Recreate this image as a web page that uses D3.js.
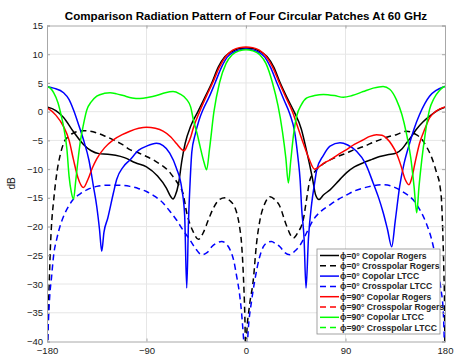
<!DOCTYPE html>
<html lang="en">
<head>
<meta charset="UTF-8">
<title>Comparison Radiation Pattern</title>
<script src="https://d3js.org/d3.v7.min.js"></script>
<style>
    body { margin: 0; background: #fff; }
    svg { font-family: "Liberation Sans", Arial, Helvetica, sans-serif; }
    .grid line { stroke: #e6e6e6; stroke-width: 1; }
    .axis path, .axis line { stroke: #a8a8a8; }
    .axis text { fill: #1a1a1a; font-size: 9.5px; }
    .legend-text { font-size: 8.6px; font-weight: bold; fill: #262626; }
</style>
</head>
<body>
<script>
    // [angle in degrees, gain in dB]
    const copol0Rogers = [
        [-180,0.8],[-172,0.2],[-165,-1.0],[-156,-3.5],[-147,-5.7],[-140,-6.8],[-133,-7.3],[-125,-7.4],
        [-118,-7.6],[-110,-8.0],[-100,-8.9],[-90,-9.6],[-80,-11.2],[-72,-13.3],[-68,-14.8],[-66,-15.2],
        [-64,-14.6],[-61,-12.5],[-58,-8.5],[-55,-5.5],[-50,-2.5],[-43.5,0],[-37,2.6],[-31,5],[-25,7.8],
        [-19,9.6],[-12,10.55],[-6,11.0],[0,11.1],[6,11.0],[12,10.55],[19,9.6],[25,7.8],[31,5],[37,2.5],
        [43.5,0],[50,-3],[55,-7],[60,-11.5],[63,-14.5],[66,-15.3],[70,-14.5],[76,-13.6],[84,-12],
        [91,-10.6],[98,-9.6],[106,-8.9],[114,-8.3],[121,-7.8],[128,-7.5],[136,-7.2],[141,-6.5],[145,-5.5],
        [150,-4.2],[154,-3.1],[160,-1.8],[166,-0.8],[173,0.2],[180,0.8]
    ];
    const cross0Rogers = [
        [-180,-45],[-179,-36],[-178,-30],[-177,-24],[-176,-20],[-174,-15.5],[-171,-10.5],[-168,-7.5],
        [-165,-5.5],[-160,-4.2],[-156,-3.7],[-151,-3.4],[-147,-3.3],[-141,-3.4],[-135,-3.7],[-127,-4.3],
        [-120,-4.9],[-112,-5.7],[-105,-6.6],[-97,-7.2],[-90,-7.8],[-82,-8.6],[-75,-9.5],[-70,-10.3],
        [-66,-11.3],[-61,-12.7],[-57,-14.2],[-53.6,-17.6],[-48,-20.8],[-43,-22.2],[-39,-21.2],[-34,-18.8],
        [-29,-16.6],[-24,-15.3],[-19,-15],[-14.5,-15.5],[-11,-16.3],[-8.4,-17.6],[-6,-19.8],[-4,-23],
        [-2.5,-28],[-1,-36],[0,-45],[0.6,-39],[3,-34],[6.6,-29.3],[9.5,-23],[12.7,-18.8],[17,-16],
        [21.7,-14.8],[26,-15.3],[30.7,-16.5],[36,-19.5],[42.8,-22],[47,-21],[51.8,-18.8],[55,-15],
        [57.9,-11.8],[62,-10.5],[67,-9.5],[76,-8.4],[83,-7.8],[91,-7.2],[98,-6.6],[106,-6.1],[113,-5.5],
        [121,-4.9],[128,-4.4],[136,-4.0],[145,-3.4],[150,-3.6],[154,-4.0],[159,-4.8],[163,-6],[168,-8],
        [172.5,-10.7],[175.5,-13],[177,-16],[178,-21],[179,-28],[179.6,-34],[180,-45]
    ];
    const copol0LTCC = [
        [-180,4.4],[-174,4.1],[-165,3.3],[-160,2.1],[-156,0.3],[-151,-2.5],[-147,-4.9],[-142,-8.5],
        [-138,-13],[-135,-16.5],[-132.5,-20.5],[-130.5,-24.3],[-128.5,-21],[-125,-18.5],[-120,-14.2],
        [-117,-11.8],[-111,-9.6],[-105,-8.4],[-97,-6.7],[-90,-6.0],[-81,-5.5],[-75,-5.9],[-69,-7.2],
        [-63,-9.8],[-58,-13.5],[-55.5,-18],[-53.6,-30.7],[-52,-19],[-50.5,-12],[-49,-7],[-46,-4],
        [-42.5,-1.5],[-39,0.3],[-33,2.7],[-28,5],[-22,7.8],[-17,9.5],[-11,10.4],[-5,10.8],[0,10.9],
        [5,10.8],[11,10.4],[17,9.5],[22,7.8],[28,5],[34,2.2],[39.8,-0.5],[44,-3.5],[47,-8],[49,-12],
        [50.4,-17],[52.5,-22],[54.3,-30.7],[56.5,-22],[59.4,-16],[62,-12.5],[64,-10.1],[70,-7.6],[76,-6.0],
        [85,-5.4],[92,-5.8],[100,-6.9],[108,-9],[115,-12.4],[120,-15],[124,-17.5],[128,-20.5],[131.8,-23.5],
        [135,-19],[139,-13],[143,-9],[148,-5.5],[152,-3],[157,-0.5],[162,1.5],[166,2.7],[172,3.7],
        [178.5,4.3],[180,4.4]
    ];
    const cross0LTCC = [
        [-180,-45],[-179,-38],[-177.5,-32],[-176,-29],[-174,-25],[-171,-22],[-168,-19.8],[-165,-18.2],
        [-160,-16.3],[-156,-15.2],[-150,-14.3],[-144,-13.6],[-135,-13.0],[-126,-12.8],[-115,-12.8],
        [-105,-13],[-97,-13.4],[-90,-13.9],[-82,-14.8],[-75,-15.9],[-69,-17.3],[-63,-18.8],[-57,-20.6],
        [-50.7,-22.3],[-45,-24.0],[-40,-24.9],[-35,-24.5],[-31,-23.5],[-26,-22.8],[-22,-22.6],[-18,-23],
        [-14.5,-24],[-11,-26],[-8.4,-28.7],[-6,-31.5],[-4,-35],[-2,-40],[0,-45],[2,-38],[5,-33],[8,-29.3],
        [12,-25.5],[15.7,-23.5],[19,-22.8],[23,-22.6],[27,-23],[30.7,-23.5],[35,-24.5],[39.8,-24.9],
        [44,-24.3],[49,-23.2],[55,-21],[61,-18.8],[68,-17.3],[76,-16.2],[84,-15.2],[91,-14.5],[98,-13.8],
        [106,-13.3],[115,-12.9],[124,-12.7],[131,-12.9],[136,-13.3],[143,-14.1],[151,-15.3],[157,-17],
        [163,-19.4],[168,-22.3],[172.5,-26.4],[176,-30.5],[178.5,-35],[180,-45]
    ];
    const copol90Rogers = [
        [-180,0.7],[-172,-0.6],[-165,-2.6],[-160,-5],[-156,-8.4],[-152,-11.5],[-147,-13.2],[-143,-11.8],
        [-139,-9.8],[-135,-8.2],[-128,-6.3],[-120,-4.9],[-112,-4.0],[-105,-3.4],[-97,-2.9],[-90,-2.7],
        [-82,-2.9],[-75,-3.4],[-68,-4.4],[-62.7,-5.6],[-58,-6.6],[-56,-6.8],[-53,-5.8],[-50,-4.4],
        [-47.6,-2.8],[-42,0],[-35.6,2.8],[-30,5.1],[-24,7.8],[-18,9.7],[-12,10.7],[-6,11.15],[0,11.25],
        [6,11.15],[12,10.7],[18,9.7],[24,7.8],[30,5.1],[36,2.5],[42,0],[47,-2.8],[52,-5.6],[57,-8.2],
        [62,-10],[66,-9.6],[70,-9.0],[76,-8.4],[83,-7.5],[91,-6.6],[98,-5.7],[106,-4.9],[112,-4.3],
        [118,-4.0],[123,-4.1],[127,-4.6],[132,-5.8],[136,-7.2],[140,-9.3],[144,-11.8],[147.4,-12.7],
        [150,-11.5],[153,-8.8],[157,-5.5],[162,-2.9],[166,-1.1],[172,0.1],[180,0.8]
    ];
    const cross90Rogers = [];
    const copol90LTCC = [
        [-180,4.4],[-177,4.1],[-174,3.3],[-170,1.5],[-167,-0.8],[-165,-2.6],[-162,-6.5],[-160,-11.3],
        [-158,-14],[-156,-15.2],[-154,-12],[-152,-8.5],[-150,-5.4],[-147,-2.2],[-144,0.3],[-140,1.7],
        [-135,2.7],[-128,3.2],[-123,3.3],[-117,3.1],[-111,2.8],[-103,2.4],[-96,2.3],[-88,2.5],[-81,2.8],
        [-73,3.3],[-66,3.5],[-60,3.1],[-53.6,2.1],[-50,0.8],[-47.6,-1.4],[-44,-4],[-41.6,-6],[-38,-8.8],
        [-35.6,-10.1],[-33,-6.5],[-29,0],[-24,5],[-18,8.4],[-12.5,9.9],[-6,10.6],[0,10.8],[6,10.6],
        [12.5,9.9],[18,8.4],[24,5],[29,1],[33,-3.5],[36,-8],[38.3,-12.4],[40.5,-8.5],[43,-4],[45.8,-0.8],
        [50,1.2],[55,2.4],[62,2.8],[70,3.0],[80,2.8],[88,2.5],[96,2.8],[106,3.5],[115,4.1],[124,4.4],
        [130,3.9],[136,2.1],[141,-0.5],[145,-3.7],[149,-8],[152,-13],[154.4,-17.6],[156.5,-13],[159,-8.4],
        [162,-4],[166,0.35],[170,2.3],[175,3.7],[178.5,4.3],[180,4.4]
    ];
    const cross90LTCC = [];

    const seriesNames = [
        "\u03d5=0\u00b0 Copolar Rogers", "\u03d5=0\u00b0 Crosspolar Rogers",
        "\u03d5=0\u00b0 Copolar LTCC", "\u03d5=0\u00b0 Crosspolar LTCC",
        "\u03d5=90\u00b0 Copolar Rogers", "\u03d5=90\u00b0 Crosspolar Rogers",
        "\u03d5=90\u00b0 Copolar LTCC", "\u03d5=90\u00b0 Crosspolar LTCC"
    ];
    const seriesData = [copol0Rogers, cross0Rogers, copol0LTCC, cross0LTCC,
        copol90Rogers, cross90Rogers, copol90LTCC, cross90LTCC];
    const seriesColors = ["#000000", "#000000", "#0000ff", "#0000ff",
        "#ff0000", "#ff0000", "#00ff00", "#00ff00"];
    const seriesDashed = [false, true, false, true, false, true, false, true];

    const xTicks = [-180, -90, 0, 90, 180];
    const yTicks = [-40, -35, -30, -25, -20, -15, -10, -5, 0, 5, 10, 15];

    const width = 462, height = 358;
    const margin = { top: 25.5, right: 17, bottom: 16.5, left: 47 };

    const svg = d3.select("body").append("svg")
        .attr("width", width)
        .attr("height", height);

    const x = d3.scaleLinear().domain([-180, 180]).range([margin.left, width - margin.right]);
    const y = d3.scaleLinear().domain([-40, 15]).range([height - margin.bottom, margin.top]);

    // grid
    const grid = svg.append("g").attr("class", "grid");
    grid.selectAll(".gx").data(xTicks.slice(1, -1)).enter().append("line")
        .attr("x1", d => x(d)).attr("x2", d => x(d))
        .attr("y1", y(-40)).attr("y2", y(15));
    grid.selectAll(".gy").data(yTicks.slice(1, -1)).enter().append("line")
        .attr("x1", x(-180)).attr("x2", x(180))
        .attr("y1", d => y(d)).attr("y2", d => y(d));

    svg.append("clipPath").attr("id", "plotclip")
        .append("rect")
        .attr("x", x(-180)).attr("y", y(15))
        .attr("width", x(180) - x(-180)).attr("height", y(-40) - y(15));

    const line = d3.line()
        .x(d => x(d[0]))
        .y(d => y(d[1]))
        .curve(d3.curveMonotoneX);

    const plot = svg.append("g").attr("clip-path", "url(#plotclip)");
    seriesData.forEach((data, i) => {
        if (!data.length) return;
        plot.append("path")
            .attr("d", line(data))
            .attr("fill", "none")
            .attr("stroke", seriesColors[i])
            .attr("stroke-width", 1.5)
            .attr("stroke-dasharray", seriesDashed[i] ? "6,4" : null);
    });

    // axes (ticks point inward like matlab)
    svg.append("g").attr("class", "axis")
        .attr("transform", "translate(0," + y(-40) + ")")
        .call(d3.axisBottom(x).tickValues(xTicks).tickSize(-3).tickPadding(6));
    svg.append("g").attr("class", "axis")
        .attr("transform", "translate(" + x(-180) + ",0)")
        .call(d3.axisLeft(y).tickValues(yTicks).tickSize(-3).tickPadding(4));
    svg.append("g").attr("class", "axis")
        .attr("transform", "translate(0," + y(15) + ")")
        .call(d3.axisTop(x).tickValues(xTicks).tickSize(-3).tickFormat(""));
    svg.append("g").attr("class", "axis")
        .attr("transform", "translate(" + x(180) + ",0)")
        .call(d3.axisRight(y).tickValues(yTicks).tickSize(-3).tickFormat(""));

    // title and label
    svg.append("text")
        .attr("x", (x(-180) + x(180)) / 2)
        .attr("y", 20)
        .attr("text-anchor", "middle")
        .attr("font-size", "11.6px")
        .attr("font-weight", "bold")
        .attr("fill", "#000")
        .text("Comparison Radiation Pattern of Four Circular Patches At 60 GHz");

    svg.append("text")
        .attr("transform", "translate(15," + y(-12.5) + ") rotate(-90)")
        .attr("text-anchor", "middle")
        .attr("font-size", "10px")
        .attr("fill", "#1a1a1a")
        .text("dB");

    // legend
    const lgX = 317, lgY = 249, lgW = 123, lgH = 85, rowH = 10.3;
    const legend = svg.append("g");
    legend.append("rect")
        .attr("x", lgX).attr("y", lgY)
        .attr("width", lgW).attr("height", lgH)
        .attr("fill", "#fff")
        .attr("stroke", "#8c8c8c")
        .attr("stroke-width", 0.8);
    seriesNames.forEach((name, i) => {
        const ry = lgY + 6.5 + i * rowH;
        legend.append("line")
            .attr("x1", lgX + 3).attr("x2", lgX + 22)
            .attr("y1", ry).attr("y2", ry)
            .attr("stroke", seriesColors[i])
            .attr("stroke-width", 1.5)
            .attr("stroke-dasharray", seriesDashed[i] ? "6,4" : null);
        legend.append("text")
            .attr("class", "legend-text")
            .attr("x", lgX + 23)
            .attr("y", ry + 3)
            .text(name);
    });
</script>
</body>
</html>
